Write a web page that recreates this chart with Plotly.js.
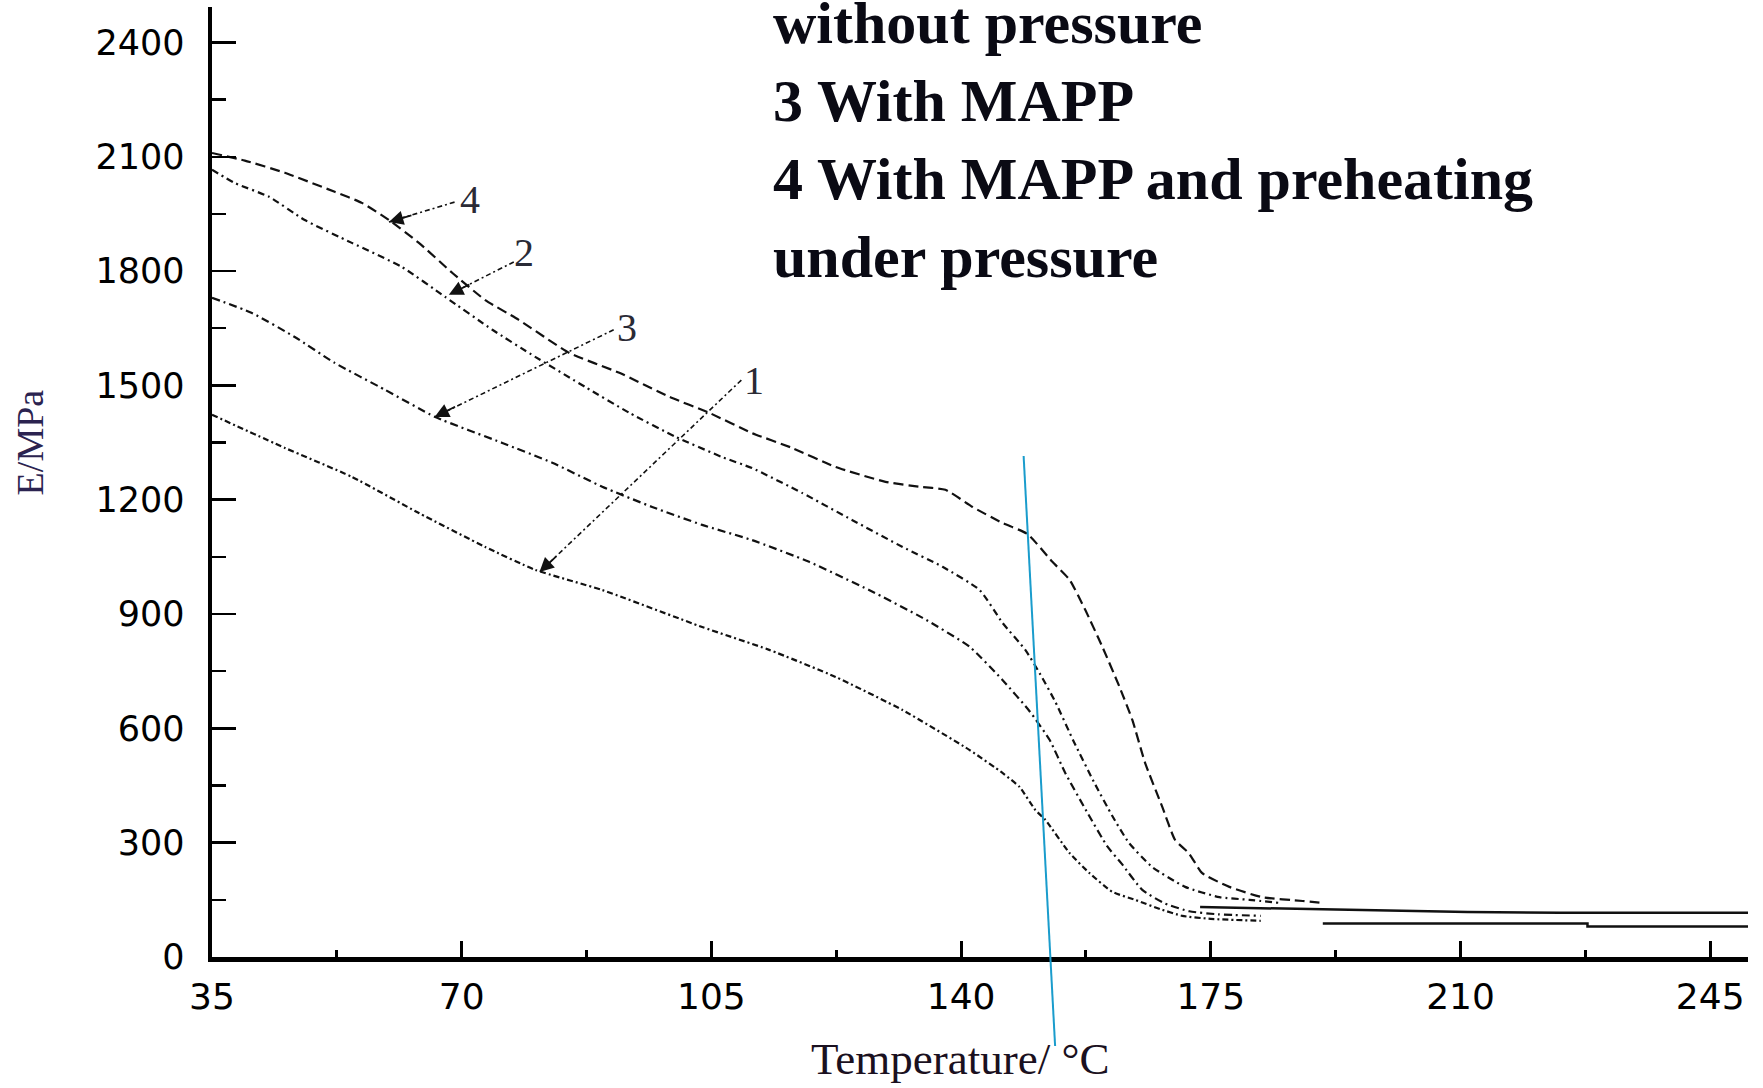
<!DOCTYPE html>
<html>
<head>
<meta charset="utf-8">
<script src="https://cdn.plot.ly/plotly-3.0.1.min.js"></script>
<style>
html,body{margin:0;padding:0;background:#ffffff;}
#chart{width:1763px;height:1088px;}
</style>
</head>
<body>
<div id="chart"></div>
<script>
// ---- data (Temperature in °C, E in MPa) ----
const curve1Temp = [35, 45.2, 54.6, 64, 73.3, 80.3, 89.7, 103.7, 113.1, 122.4, 131.8, 141.2, 145.8, 148.2, 150.4, 151.8, 155.2, 158, 161.2, 164.4, 168, 171, 175, 182];
const curve1E    = [1423, 1336, 1260, 1165, 1076, 1016, 963, 866, 806, 735, 648, 543, 483, 446, 386, 360, 273, 220, 171, 150, 125, 108, 100, 95];

const curve2Temp = [35, 38.2, 43, 48, 54.6, 61.6, 67.7, 74.3, 80.3, 87.3, 93.5, 100, 106.5, 110.7, 117.7, 124.7, 131.8, 137.4, 142.6, 145.8, 149, 151, 153.2, 155.8, 158.6, 161.2, 163.5, 166.8, 171.4, 176.2, 180.4, 184.6];
const curve2E    = [2066, 2031, 1995, 1934, 1874, 1811, 1732, 1646, 1575, 1496, 1428, 1365, 1312, 1283, 1218, 1147, 1076, 1024, 963, 877, 806, 745, 670, 565, 460, 370, 300, 236, 184, 157, 150, 142];

const curve3Temp = [35, 40.6, 46.6, 52.2, 59.3, 66.3, 75.7, 82.7, 89.7, 96.7, 103.7, 110.7, 118.7, 127.1, 134.6, 141.2, 145.8, 149.6, 152.4, 154.6, 157.6, 160.5, 162.5, 165.4, 168.6, 172, 176, 182];
const curve3E    = [1730, 1690, 1627, 1559, 1488, 1417, 1349, 1297, 1234, 1181, 1134, 1094, 1037, 963, 890, 814, 727, 645, 570, 483, 382, 290, 245, 176, 140, 120, 112, 108];

const curve4Temp = [35, 39.6, 45.2, 52.2, 56, 59.8, 64, 68.7, 73.3, 78, 85.1, 92.1, 99.1, 104.7, 110.7, 116.3, 122.4, 129.4, 134.1, 137.8, 141.6, 145.8, 149.3, 152.8, 155.2, 157.4, 159.8, 162.2, 164, 165.8, 168.2, 170, 171.9, 173.8, 177.6, 182.2, 187.9, 190.7];
const curve4E    = [2110, 2090, 2058, 2008, 1979, 1934, 1874, 1795, 1724, 1672, 1585, 1533, 1470, 1428, 1375, 1336, 1286, 1247, 1234, 1226, 1181, 1139, 1110, 1037, 990, 911, 814, 709, 622, 509, 394, 307, 273, 220, 184, 157, 147, 142];

// flat high-temperature tails (solid in the scan)
const tailUpperTemp = [173.5, 182.5, 190.7, 196.5, 211, 224, 250.3];
const tailUpperE    = [131, 128, 126, 124, 118, 116, 116];
const tailLowerTemp = [190.7, 227.8, 227.8, 250.3];
const tailLowerE    = [88, 88, 80, 80];

const xTickVals = [35, 70, 105, 140, 175, 210, 245];
const yTickVals = [0, 300, 600, 900, 1200, 1500, 1800, 2100, 2400];

const curveLabels = ['1', '2', '3', '4'];
const noteLines = ['without pressure', '3 With MAPP', '4 With MAPP and preheating', 'under pressure'];

// ---- traces ----
const baseLine = {color: '#111111', width: 2.2, shape: 'spline', smoothing: 0.5};
const traces = [
  {x: curve1Temp, y: curve1E, mode: 'lines', name: '1', line: Object.assign({}, baseLine, {dash: '6px,3px,2px,3px'})},
  {x: curve2Temp, y: curve2E, mode: 'lines', name: '2', line: Object.assign({}, baseLine, {dash: '7px,4px,2px,4px'})},
  {x: curve3Temp, y: curve3E, mode: 'lines', name: '3', line: Object.assign({}, baseLine, {dash: '8px,4px,2px,4px'})},
  {x: curve4Temp, y: curve4E, mode: 'lines', name: '4', line: Object.assign({}, baseLine, {dash: '10px,5px'})},
  {x: tailUpperTemp, y: tailUpperE, mode: 'lines', name: 'tailU', line: {color: '#111111', width: 2.5}},
  {x: tailLowerTemp, y: tailLowerE, mode: 'lines', name: 'tailL', line: {color: '#111111', width: 2.5}}
];

// ---- callouts (label position, arrow tail, arrow head, pixel direction) ----
const callouts = [
  {label: curveLabels[3], lx: 71.1, ly: 1987, tx: 69.0, ty: 1981, hx: 59.8, hy: 1929, ax: 24, ay: -7},
  {label: curveLabels[1], lx: 78.7, ly: 1850, tx: 77.3, ty: 1824, hx: 68.2, hy: 1738, ax: 22, ay: -11},
  {label: curveLabels[2], lx: 93.1, ly: 1651, tx: 91.3, ty: 1646, hx: 66.2, hy: 1417, ax: 22, ay: -11},
  {label: curveLabels[0], lx: 111.0, ly: 1514, tx: 109.2, ty: 1514, hx: 80.9, hy: 1010, ax: 18, ay: -17}
];

const shapes = [];
const annotations = [];
callouts.forEach(c => {
  shapes.push({type: 'line', xref: 'x', yref: 'y', x0: c.tx, y0: c.ty, x1: c.hx, y1: c.hy,
               line: {color: '#111111', width: 1.6, dash: '5px,3px,2px,3px'}});
  annotations.push({xref: 'x', yref: 'y', x: c.hx, y: c.hy, ax: c.ax, ay: c.ay, text: '',
                    showarrow: true, arrowhead: 2, arrowsize: 1.6, arrowwidth: 1.8, arrowcolor: '#111111', standoff: 0});
  annotations.push({xref: 'x', yref: 'y', x: c.lx, y: c.ly, text: c.label, showarrow: false,
                    xanchor: 'center', yanchor: 'middle',
                    font: {family: 'Liberation Serif, Times New Roman, serif', size: 40, color: '#2a2a35'}});
});

// blue hand-drawn line
shapes.push({type: 'line', xref: 'paper', yref: 'paper', x0: 0.5284, y0: 0.5274, x1: 0.5489, y1: -0.0937,
             line: {color: '#1a9ccc', width: 2}});

// note text at top right (one block, uniform line spacing)
annotations.push({xref: 'paper', yref: 'paper', x: 0.3648, y: 1.019, text: '<b>' + noteLines.join('<br>') + '</b>',
                  showarrow: false, xanchor: 'left', yanchor: 'top', align: 'left', borderpad: 0,
                  font: {family: 'Liberation Serif, Times New Roman, serif', size: 60, color: '#0a0a14'}});

// axis titles as annotations for precise placement
annotations.push({xref: 'paper', yref: 'paper', x: -0.1183, y: 0.542, text: 'E/MPa', textangle: -90,
                  showarrow: false, xanchor: 'center', yanchor: 'middle',
                  font: {family: 'Liberation Serif, Times New Roman, serif', size: 38, color: '#2b2350'}});
annotations.push({xref: 'paper', yref: 'paper', x: 0.487, y: -0.107, text: 'Temperature/ °C',
                  showarrow: false, xanchor: 'center', yanchor: 'middle',
                  font: {family: 'Liberation Serif, Times New Roman, serif', size: 45, color: '#1a1020'}});

const layout = {
  width: 1763, height: 1088,
  margin: {l: 212, r: 15, t: 7, b: 131},
  paper_bgcolor: '#ffffff', plot_bgcolor: '#ffffff',
  showlegend: false,
  xaxis: {
    range: [35, 250.3], tickmode: 'array', tickvals: xTickVals, ticktext: xTickVals.map(String),
    ticks: 'inside', ticklen: 16, tickwidth: 3, tickcolor: '#000000',
    minor: {ticks: 'inside', ticklen: 7, tickwidth: 3, tickcolor: '#000000', tick0: 52.5, dtick: 35, showgrid: false},
    showline: true, linewidth: 4.5, linecolor: '#000000', mirror: false,
    showgrid: false, zeroline: false, ticklabelstandoff: 4,
    tickfont: {family: 'DejaVu Sans, Arial, sans-serif', size: 36, color: '#000000'}
  },
  yaxis: {
    range: [0, 2493], tickmode: 'array', tickvals: yTickVals, ticktext: yTickVals.map(String),
    ticks: 'inside', ticklen: 24, tickwidth: 2.5, tickcolor: '#000000',
    minor: {ticks: 'inside', ticklen: 14, tickwidth: 2.5, tickcolor: '#000000', tick0: 150, dtick: 300, showgrid: false},
    showline: true, linewidth: 4.5, linecolor: '#000000', mirror: false,
    showgrid: false, zeroline: false, ticklabelstandoff: 16,
    tickfont: {family: 'DejaVu Sans, Arial, sans-serif', size: 35, color: '#000000'}
  },
  shapes: shapes,
  annotations: annotations
};

Plotly.newPlot('chart', traces, layout, {displayModeBar: false, staticPlot: true});
</script>
</body>
</html>
